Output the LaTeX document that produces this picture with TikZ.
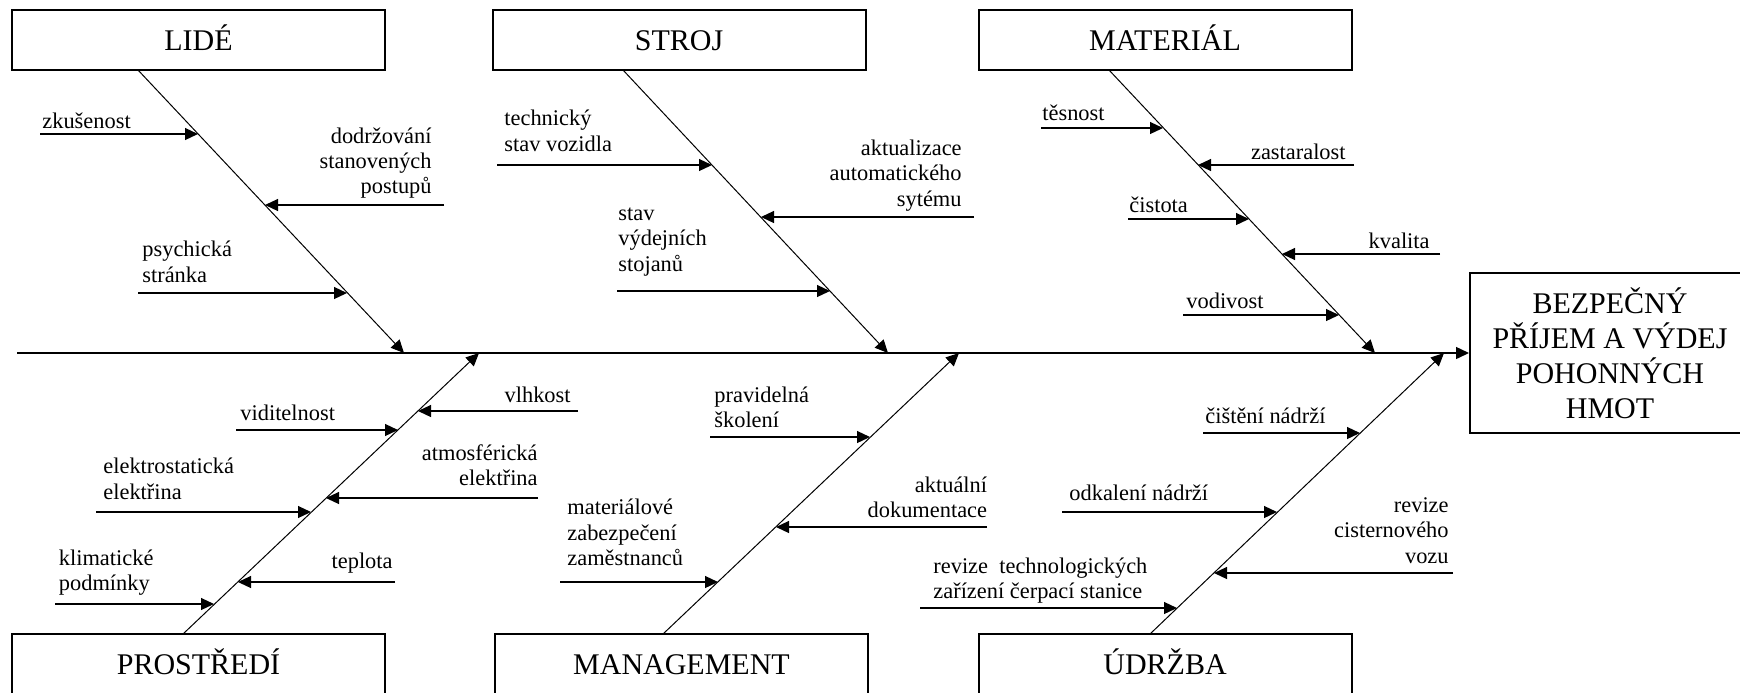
\documentclass[tikz,border=0pt]{standalone}
\usepackage{fontspec}
\setmainfont{Liberation Serif}
\usetikzlibrary{arrows.meta}

\begin{document}
\begin{tikzpicture}[x=0.5pt, y=-0.5pt,
                box/.style={rectangle, draw, line width=1pt, font=\fontsize{15}{17.5}\selectfont}, % framed boxes
                cause/.style={box, minimum width=186.5pt, minimum height=30pt, text height=10.5pt, text depth=0pt}, % main cause boxes
                lbl/.style={inner sep=0pt, font=\fontsize{11.2}{12.7}\selectfont}, % sub-cause texts
                bone/.style={line width=0.5pt, -{Triangle[length=6.5pt, width=6pt]}}, % slanted branches
                twig/.style={line width=0.6pt, -{Triangle[length=6.5pt, width=6pt]}} % horizontal arrows
                ]
                \useasboundingbox (0,0) rectangle (1740,692);

                % cause boxes
                \node[cause] (lide) at (198.5,40) {LIDÉ};
                \node[cause] (stroj) at (679,40) {STROJ};
                \node[cause] (material) at (1165,40) {MATERIÁL};
                \node[cause] (prostredi) at (198.5,664) {PROSTŘEDÍ};
                \node[cause] (management) at (681.5,664) {MANAGEMENT};
                \node[cause] (udrzba) at (1165,664) {ÚDRŽBA};
                \node[box, minimum width=140pt, minimum height=80pt, align=center] (effect) at (1610,353) {BEZPEČNÝ\\PŘÍJEM A VÝDEJ\\POHONNÝCH\\HMOT};

                % spine
                \coordinate (tail) at (17,353);
                \draw[line width=0.7pt, -{Triangle[length=6.5pt, width=6pt]}] (tail) -- (effect.west);

                % branches
                \coordinate (lideA) at (138,70);       \coordinate (lideB) at (404,353);
                \coordinate (strojA) at (623,70);      \coordinate (strojB) at (888,353);
                \coordinate (materialA) at (1109,70);  \coordinate (materialB) at (1375,353);
                \coordinate (prostrediA) at (183,634); \coordinate (prostrediB) at (479,353);
                \coordinate (managementA) at (663,634); \coordinate (managementB) at (959,353);
                \coordinate (udrzbaA) at (1150,634);   \coordinate (udrzbaB) at (1444,353);
                \draw[bone] (lideA) -- (lideB);
                \draw[bone] (strojA) -- (strojB);
                \draw[bone] (materialA) -- (materialB);
                \draw[bone] (prostrediA) -- (prostrediB);
                \draw[bone] (managementA) -- (managementB);
                \draw[bone] (udrzbaA) -- (udrzbaB);

                % LIDE
                \coordinate (zk0) at (40,134);   \coordinate (zk1) at (198,134);
                \draw[twig] (zk0) -- (zk1);
                \node[lbl, anchor=west] (zk) at (42,121) {zkušenost};
                \coordinate (do0) at (444,205);  \coordinate (do1) at (265,205);
                \draw[twig] (do0) -- (do1);
                \node[lbl, anchor=east, align=right] (do) at (432,163) {dodržování\\stanovených\\postupů};
                \coordinate (ps0) at (138,293);  \coordinate (ps1) at (347,293);
                \draw[twig] (ps0) -- (ps1);
                \node[lbl, anchor=west, align=left] (ps) at (142,262) {psychická\\stránka};

                % STROJ
                \coordinate (te0) at (497,165);  \coordinate (te1) at (712,165);
                \draw[twig] (te0) -- (te1);
                \node[lbl, anchor=west, align=left] (te) at (504,131) {technický\\stav vozidla};
                \coordinate (ak0) at (974,217);  \coordinate (ak1) at (761,217);
                \draw[twig] (ak0) -- (ak1);
                \node[lbl, anchor=east, align=right] (ak) at (962,175.5) {aktualizace\\automatického\\sytému};
                \coordinate (st0) at (617,291);  \coordinate (st1) at (830,291);
                \draw[twig] (st0) -- (st1);
                \node[lbl, anchor=west, align=left] (st) at (618,242) {stav\\výdejních\\stojanů};

                % MATERIAL
                \coordinate (ts0) at (1041,128); \coordinate (ts1) at (1163,128);
                \draw[twig] (ts0) -- (ts1);
                \node[lbl, anchor=west] (ts) at (1042,113) {těsnost};
                \coordinate (za0) at (1354,165); \coordinate (za1) at (1198,165);
                \draw[twig] (za0) -- (za1);
                \node[lbl, anchor=east] (za) at (1346,152) {zastaralost};
                \coordinate (ci0) at (1128,219); \coordinate (ci1) at (1249,219);
                \draw[twig] (ci0) -- (ci1);
                \node[lbl, anchor=west] (ci) at (1129,205) {čistota};
                \coordinate (kv0) at (1440,254); \coordinate (kv1) at (1282,254);
                \draw[twig] (kv0) -- (kv1);
                \node[lbl, anchor=east] (kv) at (1430,241) {kvalita};
                \coordinate (vo0) at (1183,315); \coordinate (vo1) at (1339,315);
                \draw[twig] (vo0) -- (vo1);
                \node[lbl, anchor=west] (vo) at (1186,301) {vodivost};

                % PROSTREDI
                \coordinate (vi0) at (236,430);  \coordinate (vi1) at (398,430);
                \draw[twig] (vi0) -- (vi1);
                \node[lbl, anchor=west] (vi) at (240,413) {viditelnost};
                \coordinate (vl0) at (578,411);  \coordinate (vl1) at (418,411);
                \draw[twig] (vl0) -- (vl1);
                \node[lbl, anchor=east] (vl) at (571,395) {vlhkost};
                \coordinate (el0) at (96,512);   \coordinate (el1) at (311,512);
                \draw[twig] (el0) -- (el1);
                \node[lbl, anchor=west, align=left] (el) at (103,479) {elektrostatická\\elektřina};
                \coordinate (at0) at (538,498);  \coordinate (at1) at (326,498);
                \draw[twig] (at0) -- (at1);
                \node[lbl, anchor=east, align=right] (at) at (538,465.5) {atmosférická\\elektřina};
                \coordinate (kl0) at (55,604);   \coordinate (kl1) at (214,604);
                \draw[twig] (kl0) -- (kl1);
                \node[lbl, anchor=west, align=left] (kl) at (58.5,572.5) {klimatické\\podmínky};
                \coordinate (tp0) at (395,582);  \coordinate (tp1) at (238,582);
                \draw[twig] (tp0) -- (tp1);
                \node[lbl, anchor=east] (tp) at (393,563) {teplota};

                % MANAGEMENT
                \coordinate (pr0) at (710,437);  \coordinate (pr1) at (870,437);
                \draw[twig] (pr0) -- (pr1);
                \node[lbl, anchor=west, align=left] (pr) at (714,407.5) {pravidelná\\školení};
                \coordinate (dk0) at (987,527);  \coordinate (dk1) at (776,527);
                \draw[twig] (dk0) -- (dk1);
                \node[lbl, anchor=east, align=right] (dk) at (987.5,497.5) {aktuální\\dokumentace};
                \coordinate (mz0) at (560,582);  \coordinate (mz1) at (718,582);
                \draw[twig] (mz0) -- (mz1);
                \node[lbl, anchor=west, align=left] (mz) at (567,532.5) {materiálové\\zabezpečení\\zaměstnanců};

                % UDRZBA
                \coordinate (cn0) at (1203,433); \coordinate (cn1) at (1360,433);
                \draw[twig] (cn0) -- (cn1);
                \node[lbl, anchor=west] (cn) at (1205,416) {čištění nádrží};
                \coordinate (od0) at (1062,512); \coordinate (od1) at (1277,512);
                \draw[twig] (od0) -- (od1);
                \node[lbl, anchor=west] (od) at (1069,493) {odkalení nádrží};
                \coordinate (rc0) at (1453,573); \coordinate (rc1) at (1214,573);
                \draw[twig] (rc0) -- (rc1);
                \node[lbl, anchor=east, align=right] (rc) at (1449,530.5) {revize\\cisternového\\vozu};
                \coordinate (rt0) at (920,608);  \coordinate (rt1) at (1177,608);
                \draw[twig] (rt0) -- (rt1);
                \node[lbl, anchor=west, align=left] (rt) at (933,580.5) {revize\ \ technologických\\zařízení čerpací stanice};
            \end{tikzpicture}
\end{document}
